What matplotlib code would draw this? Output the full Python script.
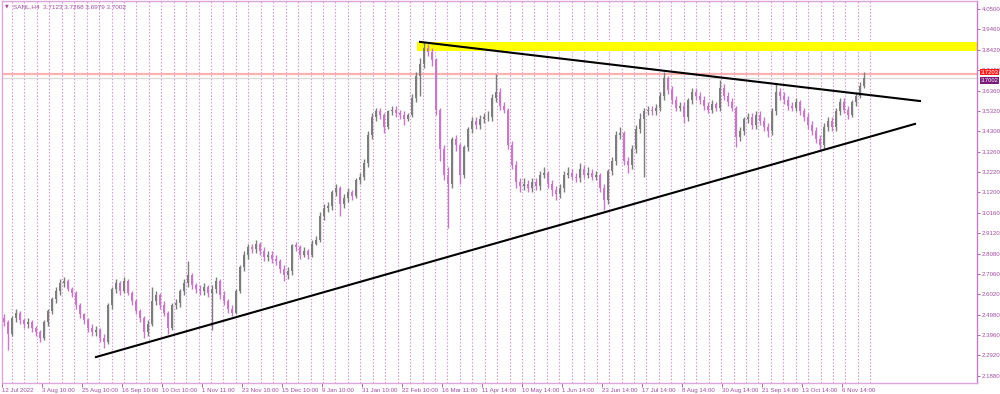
import matplotlib
matplotlib.use("Agg")
import matplotlib.pyplot as plt
import numpy as np

plt.rcParams["font.family"] = ["Liberation Sans", "DejaVu Sans"]

# header shown in the top-left corner
symbol = "SANL,H4"
header_ohlc = ["3.7123", "3.7268", "3.6979", "3.7002"]

# candles (open = previous close)
first_open = 2.48
close = [
    2.46, 2.40, 2.48, 2.51, 2.47, 2.45, 2.46, 2.43, 2.41, 2.38,
    2.46, 2.52, 2.58, 2.62, 2.66, 2.67, 2.63, 2.61, 2.55, 2.50,
    2.47, 2.43, 2.41, 2.42, 2.38, 2.36, 2.55, 2.63, 2.66, 2.62,
    2.67, 2.61, 2.57, 2.52, 2.48, 2.41, 2.45, 2.57, 2.60, 2.55,
    2.51, 2.43, 2.55, 2.56, 2.62, 2.66, 2.70, 2.65, 2.63, 2.62,
    2.64, 2.61, 2.63, 2.67, 2.60, 2.57, 2.53, 2.51, 2.62, 2.74,
    2.80, 2.84, 2.83, 2.86, 2.82, 2.79, 2.80, 2.78, 2.77, 2.73,
    2.70, 2.72, 2.85, 2.84, 2.80, 2.82, 2.80, 2.86, 2.88, 3.00,
    3.04, 3.05, 3.12, 3.14, 3.06, 3.09, 3.12, 3.10, 3.18, 3.20,
    3.27, 3.41, 3.50, 3.53, 3.51, 3.45, 3.53, 3.54, 3.52, 3.51,
    3.49, 3.51, 3.60, 3.71, 3.77, 3.85, 3.83, 3.79, 3.54, 3.34,
    3.21, 3.16, 3.39, 3.36, 3.21, 3.35, 3.44, 3.48, 3.46, 3.49,
    3.50, 3.50, 3.60, 3.63, 3.56, 3.54, 3.36, 3.26, 3.17, 3.15,
    3.16, 3.14, 3.17, 3.15, 3.21, 3.22, 3.16, 3.13, 3.11, 3.14,
    3.21, 3.22, 3.20, 3.19, 3.24, 3.21, 3.22, 3.20, 3.21, 3.14,
    3.08, 3.23, 3.28, 3.41, 3.42, 3.28, 3.26, 3.34, 3.44, 3.49,
    3.53, 3.54, 3.53, 3.55, 3.61, 3.70, 3.64, 3.59, 3.55, 3.56,
    3.50, 3.59, 3.63, 3.61, 3.59, 3.56, 3.54, 3.57, 3.55, 3.65,
    3.61, 3.58, 3.55, 3.40, 3.43, 3.49, 3.50, 3.46, 3.51, 3.48,
    3.45, 3.43, 3.53, 3.63, 3.61, 3.59, 3.56, 3.55, 3.58, 3.53,
    3.50, 3.46, 3.43, 3.39, 3.36, 3.45, 3.48, 3.45, 3.53, 3.58,
    3.54, 3.51, 3.58, 3.61, 3.66, 3.70,
]
high = [
    2.50, 2.47, 2.49, 2.53, 2.52, 2.48, 2.48, 2.47, 2.44, 2.42,
    2.47, 2.53, 2.59, 2.64, 2.68, 2.69, 2.68, 2.64, 2.62, 2.56,
    2.51, 2.48, 2.45, 2.44, 2.43, 2.40, 2.56, 2.64, 2.68, 2.67,
    2.69, 2.68, 2.62, 2.58, 2.53, 2.49, 2.47, 2.64, 2.62, 2.61,
    2.57, 2.52, 2.56, 2.58, 2.63, 2.68, 2.77, 2.71, 2.66, 2.65,
    2.66, 2.65, 2.65, 2.69, 2.68, 2.62, 2.58, 2.55, 2.63, 2.75,
    2.82, 2.86, 2.86, 2.88, 2.87, 2.84, 2.82, 2.82, 2.80, 2.78,
    2.75, 2.74, 2.86, 2.87, 2.85, 2.84, 2.83, 2.88, 2.90, 3.02,
    3.06, 3.07, 3.13, 3.16, 3.15, 3.11, 3.14, 3.13, 3.19, 3.22,
    3.29, 3.43, 3.52, 3.55, 3.55, 3.52, 3.54, 3.56, 3.56, 3.54,
    3.53, 3.52, 3.62, 3.73, 3.80, 3.88, 3.87, 3.85, 3.80, 3.55,
    3.36, 3.25, 3.40, 3.41, 3.37, 3.36, 3.45, 3.50, 3.50, 3.51,
    3.52, 3.53, 3.62, 3.72, 3.65, 3.58, 3.55, 3.38, 3.28, 3.19,
    3.19, 3.18, 3.19, 3.19, 3.23, 3.25, 3.23, 3.18, 3.15, 3.16,
    3.23, 3.25, 3.24, 3.22, 3.27, 3.26, 3.25, 3.24, 3.23, 3.22,
    3.16, 3.24, 3.30, 3.43, 3.45, 3.43, 3.30, 3.36, 3.46, 3.52,
    3.55, 3.56, 3.56, 3.57, 3.63, 3.73, 3.71, 3.66, 3.61, 3.58,
    3.58, 3.60, 3.65, 3.65, 3.63, 3.61, 3.58, 3.59, 3.58, 3.69,
    3.67, 3.63, 3.60, 3.56, 3.45, 3.50, 3.52, 3.52, 3.53, 3.53,
    3.50, 3.47, 3.55, 3.67, 3.65, 3.63, 3.61, 3.58, 3.60, 3.59,
    3.55, 3.52, 3.48, 3.45, 3.41, 3.47, 3.50, 3.50, 3.55, 3.60,
    3.60, 3.56, 3.59, 3.63, 3.68, 3.73,
]
low = [
    2.44, 2.32, 2.39, 2.46, 2.45, 2.43, 2.43, 2.41, 2.39, 2.36,
    2.37, 2.44, 2.50, 2.56, 2.60, 2.64, 2.62, 2.59, 2.53, 2.48,
    2.45, 2.41, 2.39, 2.39, 2.36, 2.33, 2.35, 2.53, 2.61, 2.60,
    2.61, 2.60, 2.55, 2.50, 2.46, 2.38, 2.39, 2.44, 2.55, 2.53,
    2.49, 2.40, 2.42, 2.53, 2.54, 2.60, 2.64, 2.63, 2.61, 2.60,
    2.60, 2.59, 2.42, 2.61, 2.58, 2.55, 2.51, 2.49, 2.50, 2.61,
    2.72, 2.78, 2.81, 2.81, 2.80, 2.77, 2.77, 2.76, 2.75, 2.71,
    2.67, 2.68, 2.70, 2.82, 2.78, 2.79, 2.78, 2.79, 2.85, 2.87,
    2.98, 3.02, 3.03, 3.10, 3.00, 3.04, 3.07, 3.08, 3.09, 3.16,
    3.18, 3.25, 3.39, 3.48, 3.49, 3.42, 3.44, 3.51, 3.50, 3.49,
    3.46, 3.48, 3.50, 3.58, 3.61, 3.75, 3.81, 3.76, 3.51, 3.28,
    3.18, 2.94, 3.14, 3.33, 3.16, 3.19, 3.33, 3.42, 3.44, 3.44,
    3.47, 3.48, 3.48, 3.58, 3.54, 3.52, 3.34, 3.24, 3.14, 3.12,
    3.13, 3.12, 3.12, 3.13, 3.13, 3.19, 3.14, 3.10, 3.08, 3.09,
    3.12, 3.19, 3.18, 3.17, 3.17, 3.19, 3.19, 3.18, 3.18, 3.12,
    3.03, 3.06, 3.21, 3.26, 3.39, 3.26, 3.22, 3.24, 3.32, 3.42,
    3.20, 3.51, 3.51, 3.51, 3.53, 3.59, 3.62, 3.57, 3.53, 3.53,
    3.47, 3.48, 3.57, 3.59, 3.57, 3.54, 3.52, 3.52, 3.53, 3.53,
    3.59, 3.56, 3.53, 3.35, 3.38, 3.41, 3.47, 3.44, 3.44, 3.46,
    3.43, 3.40, 3.41, 3.51, 3.59, 3.57, 3.54, 3.53, 3.53, 3.51,
    3.48, 3.44, 3.41, 3.37, 3.33, 3.34, 3.43, 3.43, 3.43, 3.51,
    3.52, 3.49, 3.50, 3.56, 3.60, 3.65,
]

# right price scale and bottom time scale
price_ticks = [4.0500, 3.9460, 3.8420, 3.7400, 3.6360, 3.5320, 3.4300,
               3.3260, 3.2220, 3.1200, 3.0160, 2.9120, 2.8080, 2.7060,
               2.6020, 2.4980, 2.3960, 2.2920, 2.1880]
date_labels = ["12 Jul 2022", "3 Aug 10:00", "25 Aug 10:00", "16 Sep 10:00",
               "10 Oct 10:00", "1 Nov 11:00", "23 Nov 10:00", "15 Dec 10:00",
               "9 Jan 10:00", "31 Jan 10:00", "22 Feb 10:00", "16 Mar 11:00",
               "11 Apr 14:00", "10 May 14:00", "1 Jun 14:00", "23 Jun 14:00",
               "17 Jul 14:00", "8 Aug 14:00", "30 Aug 14:00", "21 Sep 14:00",
               "13 Oct 14:00", "6 Nov 14:00"]

# drawings on the chart (bar index, price)
support_bars = [23, 227.75]
support_prices = [2.284, 3.467]
resist_bars = [104, 229]
resist_prices = [3.883, 3.583]
zone_start = 103.25
zone_low, zone_high = 3.837, 3.885
ask_price = 3.7203
bid_price = 3.7002

PURPLE = "#a04ca0"
BULL = "#7d7d7d"
BEAR = "#c47ac4"

close = np.array(close)
high = np.array(high)
low = np.array(low)
opens = np.concatenate([[first_open], close[:-1]])
idx = np.arange(len(close))
up = close >= opens

fig = plt.figure(figsize=(10, 3.94), dpi=100)
ax = fig.add_axes([0.002, 0.028, 0.975, 0.9695])

# weekly dotted grid
for gx in np.arange(2, 218, 3.11):
    ax.axvline(gx, color="#d48fd4", lw=0.8, ls=(0, (1.2, 1.8)), zorder=0)

colors = np.where(up, BULL, BEAR)
ax.vlines(idx, low, high, colors=colors, lw=1.0, zorder=2)
body_lo = np.minimum(opens, close)
body_h = np.maximum(np.abs(close - opens), 0.004)
ax.bar(idx, body_h, bottom=body_lo, width=0.7, color=colors, lw=0, zorder=3)

# zone and trendlines
ax.fill_between([zone_start, 260], zone_low, zone_high, color="#ffff00", lw=0, zorder=1)
ax.plot(support_bars, support_prices, color="black", lw=1.5, zorder=4)
ax.plot(resist_bars, resist_prices, color="black", lw=1.5, zorder=4)

ax.axhline(ask_price, color="#ffb0b0", lw=1.6, zorder=1)
ax.axhline(bid_price, color="#d8d8d8", lw=0.9, zorder=1)

ax.set_xlim(-0.5, 243.25)
ax.set_ylim(2.1525, 4.0906)

ax.yaxis.tick_right()
ax.set_yticks(price_ticks)
ax.set_yticklabels([f"{p:.4f}" for p in price_ticks])
ax.tick_params(axis="y", colors=PURPLE, labelsize=4.4, length=2, width=0.6, pad=1.5)

ax.set_xticks(np.arange(len(date_labels)) * 10 - 0.5)
ax.set_xticklabels(date_labels)
ax.tick_params(axis="x", colors=PURPLE, labelsize=4.4, length=3, width=0.6, pad=0.5)
for lbl in ax.get_xticklabels():
    lbl.set_ha("left")

for side in ["left", "top", "bottom"]:
    ax.spines[side].set_color("#dca6dc")
    ax.spines[side].set_linewidth(1.0)
ax.spines["right"].set_color("#c27ec2")
ax.spines["right"].set_linewidth(1.0)

# price labels on the scale
ax.annotate(f"{ask_price:.4f}", xy=(1.0, ask_price), xycoords=("axes fraction", "data"),
            xytext=(2.5, 1.4), textcoords="offset points", fontsize=4.2, color="white",
            va="center", ha="left",
            bbox=dict(boxstyle="square,pad=0.1", fc="#ff1a1a", ec="none"))
ax.annotate(f"{bid_price:.4f}", xy=(1.0, bid_price), xycoords=("axes fraction", "data"),
            xytext=(2.5, -1.8), textcoords="offset points", fontsize=4.2, color="white",
            va="center", ha="left",
            bbox=dict(boxstyle="square,pad=0.1", fc="#7a1a7a", ec="none"))

fig.text(0.005, 0.984, "\u25bc", fontsize=3.5, color=PURPLE, va="center",
         family="DejaVu Sans")
fig.text(0.013, 0.984, symbol + "  " + " ".join(header_ohlc), fontsize=4.6,
         color=PURPLE, va="center")

fig.savefig("out.png", dpi=100)
